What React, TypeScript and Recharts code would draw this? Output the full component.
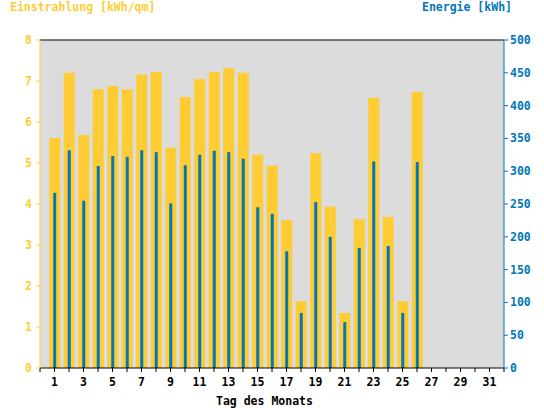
import { BarChart, Bar, XAxis, YAxis, CartesianGrid, ReferenceLine } from "recharts";

const days = [
  1, 2, 3, 4, 5, 6, 7, 8, 9, 10, 11, 12, 13, 14, 15, 16, 17, 18, 19, 20, 21,
  22, 23, 24, 25, 26, 27, 28, 29, 30, 31,
];
// Einstrahlung [kWh/qm], Tage 1..26
const einstrahlung = [
  5.61, 7.2, 5.68, 6.8, 6.88, 6.8, 7.15, 7.22, 5.37, 6.61, 7.05, 7.22, 7.32,
  7.2, 5.2, 4.93, 3.61, 1.63, 5.24, 3.93, 1.34, 3.63, 6.59, 3.68, 1.63, 6.73,
];
// Energie [kWh], Tage 1..26
const energie = [
  267, 332, 255, 308, 323, 322, 332, 329, 251, 309, 325, 331, 329, 319, 245,
  235, 178, 84, 253, 200, 70, 183, 315, 186, 84, 314,
];
const xTicks = [
  0, 1, 2, 3, 4, 5, 6, 7, 8, 9, 10, 11, 12, 13, 14, 15, 16, 17, 18, 19, 20, 21,
  22, 23, 24, 25, 26, 27, 28, 29, 30, 31, 32,
];
const leftTicks = [0, 1, 2, 3, 4, 5, 6, 7, 8];
const rightTicks = [0, 50, 100, 150, 200, 250, 300, 350, 400, 450, 500];

const YELLOW = "#ffcc33";
const BLUE = "#0077bb";
const FONT = "'DejaVu Sans Mono', monospace";

const rows = days.map((day, i) => ({
  day,
  sun: einstrahlung[i] ?? null,
  energy: energie[i] ?? null,
}));

const tickStyle = (fill: string) => ({
  fill,
  fontSize: 11.5,
  fontFamily: FONT,
  fontWeight: "bold" as const,
});

const titleStyle = {
  position: "absolute" as const,
  fontFamily: FONT,
  fontWeight: "bold" as const,
  fontSize: 11.5,
  lineHeight: "14px",
  whiteSpace: "nowrap" as const,
};

export default function App() {
  return (
    <div style={{ position: "absolute", left: 0, top: 0, width: 544, height: 408, background: "#fff" }}>
      <div style={{ ...titleStyle, left: 10, top: 0, color: YELLOW }}>Einstrahlung [kWh/qm]</div>
      <div style={{ ...titleStyle, right: 32, top: 0, color: BLUE }}>Energie [kWh]</div>
      <div style={{ ...titleStyle, left: 216, top: 394, color: "#000" }}>Tag des Monats</div>
      <BarChart
        width={544}
        height={408}
        data={rows}
        margin={{ top: 40, right: 0, bottom: 0, left: 0 }}
      >
        <CartesianGrid
          xAxisId="days"
          yAxisId="left"
          horizontal={false}
          vertical={false}
          fill="#dcdcdc"
          fillOpacity={1}
        />
        <XAxis
          xAxisId="days"
          type="number"
          dataKey="day"
          domain={[0, 32]}
          ticks={xTicks}
          interval={0}
          allowDataOverflow
          height={40}
          stroke="#000"
          tickSize={4}
          tickMargin={6}
          tick={tickStyle("#000")}
          tickFormatter={(v: number) => (v % 2 === 1 ? String(v) : "")}
        />
        <XAxis xAxisId="sun" dataKey="day" hide padding={{ left: 7.25, right: 7.25 }} />
        <XAxis xAxisId="energy" dataKey="day" hide padding={{ left: 7.25, right: 7.25 }} />
        <YAxis
          yAxisId="left"
          orientation="left"
          domain={[0, 8]}
          ticks={leftTicks}
          interval={0}
          width={40}
          stroke={YELLOW}
          tickSize={4}
          tickMargin={4}
          tick={tickStyle(YELLOW)}
        />
        <YAxis
          yAxisId="right"
          orientation="right"
          domain={[0, 500]}
          ticks={rightTicks}
          interval={0}
          width={40}
          stroke={BLUE}
          tickSize={4}
          tickMargin={2}
          tick={{ ...tickStyle(BLUE), textAnchor: "start" }}
        />
        <ReferenceLine xAxisId="days" yAxisId="left" y={8} stroke="#000" strokeWidth={1.2} />
        <Bar
          xAxisId="sun"
          yAxisId="left"
          dataKey="sun"
          fill={YELLOW}
          barSize={11}
          isAnimationActive={false}
        />
        <Bar
          xAxisId="energy"
          yAxisId="right"
          dataKey="energy"
          fill={BLUE}
          barSize={3}
          isAnimationActive={false}
        />
      </BarChart>
    </div>
  );
}
